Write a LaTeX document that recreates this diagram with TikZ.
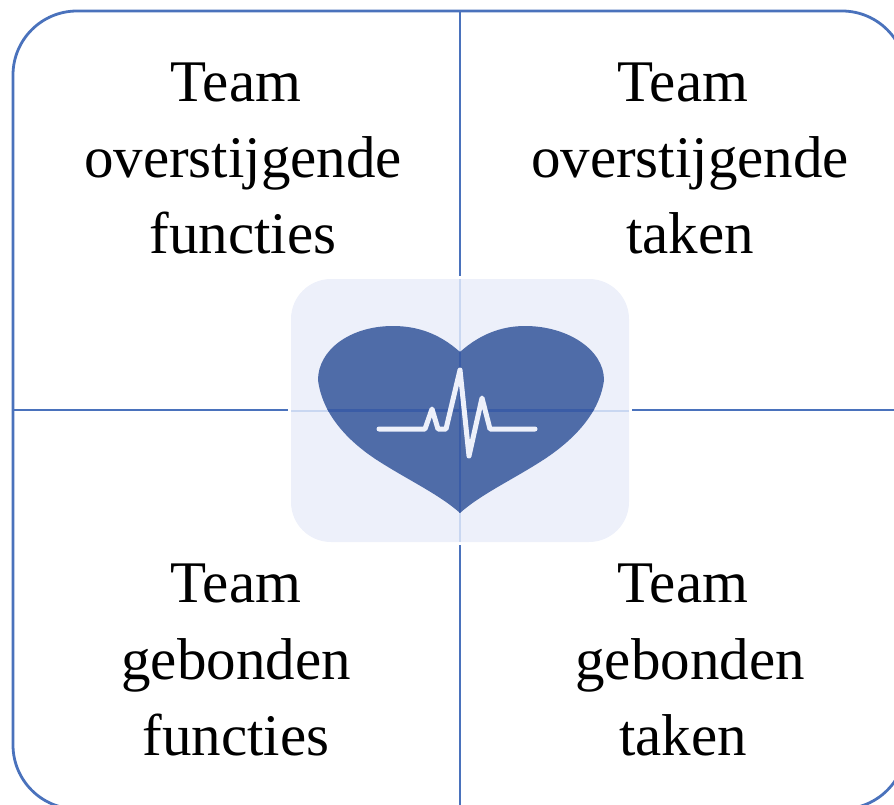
\documentclass[tikz,border=0pt]{standalone}
\usepackage{fontspec}
\setmainfont{Liberation Serif}
\definecolor{frameblue}{HTML}{4A72BC}
\definecolor{panelfill}{HTML}{EDF0FA}
\definecolor{heartfill}{HTML}{4F6CA8}
\definecolor{seamlight}{HTML}{C9D7F1}
\definecolor{seamdark}{HTML}{3A5CA6}
\tikzset{
  framed/.style={draw=frameblue,line width=2.8pt},
  quadtext/.style={inner sep=0pt,align=center,font=\fontsize{59pt}{76pt}\selectfont,text=black,anchor=base},
  seam/.style={draw=seamlight,line width=2pt},
  pulse/.style={draw=panelfill,line width=5pt,line cap=round,line join=round}
}
\newcommand{\heartpath}{(460,352)
  .. controls (440,334) and (418,326) .. (393,326)
  .. controls (350,326) and (318,350) .. (318,380)
  .. controls (322,412) and (345,440) .. (380,462)
  .. controls (410,481) and (440,495) .. (460,513)
  .. controls (480,495) and (510,481) .. (540,462)
  .. controls (575,440) and (600,412) .. (604,380)
  .. controls (604,350) and (568,326) .. (525,326)
  .. controls (502,326) and (480,334) .. (460,352) -- cycle}
\begin{document}
\begin{tikzpicture}[x=1pt,y=-1pt]
\useasboundingbox (0,0) rectangle (894,805);
\clip (0,0) rectangle (894,805);
% frame
\draw[framed,rounded corners=64pt] (13,11) rectangle (906,809);
% named junctions
\coordinate (top) at (460,11);
\coordinate (bottom) at (460,805);
\coordinate (left) at (13,410);
\coordinate (right) at (894,410);
\node[fill=panelfill,rounded corners=40pt,minimum width=338pt,minimum height=263pt,inner sep=0pt] (panel) at (460,410.5) {};
\coordinate (panelT) at (460,276);
\coordinate (panelB) at (460,545);
\coordinate (panelL) at (288,410);
\coordinate (panelR) at (632,410);
\draw[framed] (top) -- (panelT);
\draw[framed] (panelB) -- (bottom);
\draw[framed] (left) -- (panelL);
\draw[framed] (panelR) -- (right);
\draw[seam] (panel.north) -- (panel.south);
\draw[seam] (panel.west) -- (panel.east);
% heart
\fill[heartfill] \heartpath;
\begin{scope}
\clip \heartpath;
\draw[seamdark,line width=2.8pt] (panel.north) -- (panel.south);
\draw[seamdark,line width=2.8pt] (panel.west) -- (panel.east);
\end{scope}
\draw[pulse] (379,429) -- (425,429) -- (432,409) -- (438,429) -- (446,429) -- (460,370) -- (469,456) -- (482,398) -- (490,429) -- (535,429);
% text
\node[quadtext] (tl1) at (236,102) {Team};
\node[quadtext] (tl2) at (243,178) {overstijgende};
\node[quadtext] (tl3) at (243,253) {functies};
\node[quadtext] (tr1) at (683,102) {Team};
\node[quadtext] (tr2) at (690,178) {overstijgende};
\node[quadtext] (tr3) at (690,253) {taken};
\node[quadtext] (bl1) at (236,602) {Team};
\node[quadtext] (bl2) at (236,679) {gebonden};
\node[quadtext] (bl3) at (236,755) {functies};
\node[quadtext] (br1) at (683,602) {Team};
\node[quadtext] (br2) at (690,679) {gebonden};
\node[quadtext] (br3) at (683,755) {taken};
\end{tikzpicture}
\end{document}
